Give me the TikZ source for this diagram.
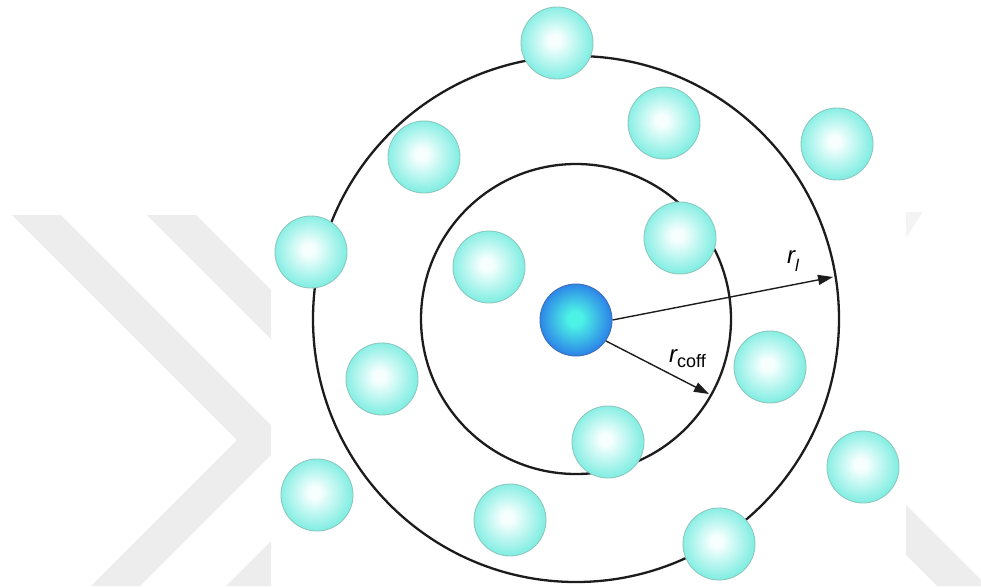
\documentclass[tikz,border=0pt]{standalone}
\usepackage{fontspec}
\setmainfont{Liberation Sans}
\usetikzlibrary{arrows.meta}
\definecolor{wm}{HTML}{EDEDED}
\definecolor{wmlight}{HTML}{F4F4F4}
\definecolor{cyin}{HTML}{F6FFFE}
\definecolor{cyout}{HTML}{84EEE3}
\definecolor{cyrim}{HTML}{8CC8C0}
\definecolor{blin}{HTML}{4CF2E6}
\definecolor{blout}{HTML}{2C84E8}
\definecolor{blrim}{HTML}{3A6FB8}
\definecolor{ink}{HTML}{1C1C1C}
\pgfdeclareradialshading{cyanball}{\pgfpoint{-2bp}{2bp}}{color(0bp)=(cyin); color(4bp)=(cyin); color(25bp)=(cyout); color(50bp)=(cyout)}
\pgfdeclareradialshading{blueball}{\pgfpoint{-1bp}{1bp}}{color(0bp)=(blin); color(5bp)=(blin); color(25bp)=(blout); color(50bp)=(blout)}
\begin{document}
\begin{tikzpicture}[x=1pt,y=-1pt,
  ballnode/.style={circle, minimum size=72pt, inner sep=0pt, shading=cyanball, draw=cyrim, line width=0.9pt},
  centralball/.style={circle, minimum size=72pt, inner sep=0pt, shading=blueball, draw=blrim, line width=0.9pt},
  ring/.style={draw=ink, line width=2.3pt},
  arr/.style={draw=ink, line width=1.4pt, -{Triangle[length=15pt,width=10pt]}},
  lbl/.style={inner sep=0pt, font=\fontsize{24}{24}\selectfont}]
\useasboundingbox (0,0) rectangle (981,586);
% watermark
\begin{scope}
\clip (0,0) rectangle (271,586);
\fill[wm] (12,215) -- (61,215) -- (286,440) -- (140,586) -- (91,586) -- (237,440) -- cycle;
\fill[wm] (147,215) -- (196,215) -- (421,440) -- (275,586) -- (226,586) -- (372,440) -- cycle;
\end{scope}
\fill[wm] (906,505) -- (981,580) -- (981,586) -- (937,586) -- (906,555) -- cycle;
\fill[wmlight] (906,212) -- (923,212) -- (906,238) -- cycle;
% rings
\coordinate (c) at (576,319);
\draw[ring] (c) circle[radius=155];
\draw[ring] (c) circle[radius=263];
% balls
\node[ballnode] (b1) at (557,43) {};
\node[ballnode] (b2) at (664,123) {};
\node[ballnode] (b3) at (837,144) {};
\node[ballnode] (b4) at (424,157) {};
\node[ballnode] (b5) at (311,252) {};
\node[ballnode] (b6) at (489,267) {};
\node[ballnode] (b7) at (680,238) {};
\node[ballnode] (b8) at (382,379) {};
\node[ballnode] (b9) at (770,367) {};
\node[ballnode] (b10) at (608,442) {};
\node[ballnode] (b11) at (317,495) {};
\node[ballnode] (b12) at (510,520) {};
\node[ballnode] (b13) at (719,544) {};
\node[ballnode] (b14) at (863,467) {};
\node[centralball] (blue) at (576,320) {};
% arrows
\coordinate (rl) at (833,277);
\coordinate (rc) at (709,394);
\draw[arr] (blue.east) -- (rl);
\draw[arr] (blue.-35) -- (rc);
% labels
\node[lbl, anchor=base west] (lrl) at (787,263) {{\itshape r}\raisebox{-8pt}{\fontsize{17}{17}\selectfont\itshape l}};
\node[lbl, anchor=base west] (lrc) at (669,362) {{\itshape r}\raisebox{-5pt}{\fontsize{18}{18}\selectfont coff}};
\end{tikzpicture}
\end{document}
